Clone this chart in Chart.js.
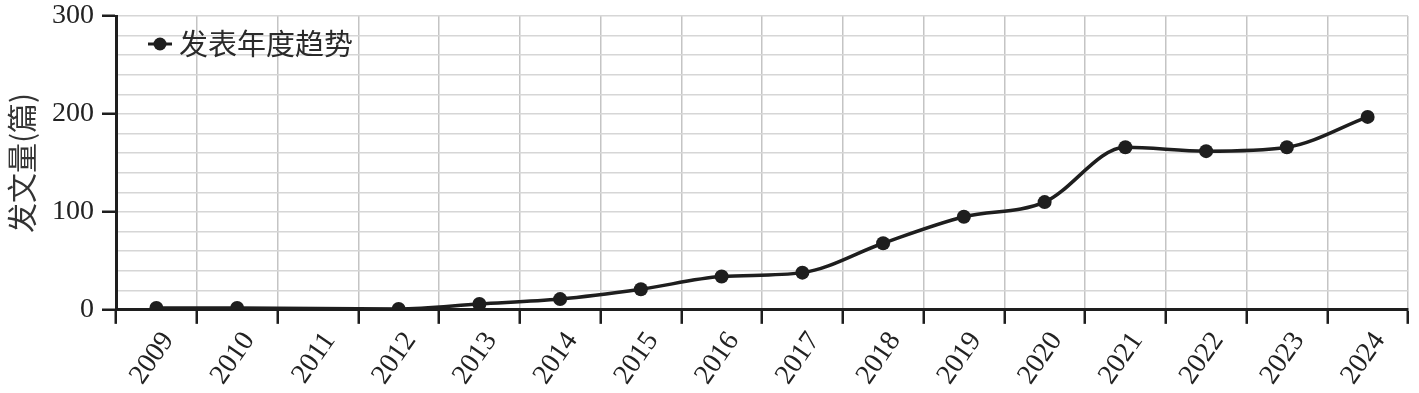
<!DOCTYPE html>
<html>
<head>
<meta charset="utf-8">
<script src="https://cdn.jsdelivr.net/npm/chart.js@4.4.1/dist/chart.umd.min.js"></script>
<style>
    html, body { margin: 0; padding: 0; background: #fff; }
    #wrap { width: 1419px; height: 393px; position: relative; }
</style>
</head>
<body>
<div id="wrap"><canvas id="trendChart"></canvas></div>
<script>
// Data (2011 has no marker, the line runs through it)
const years = ['2009', '2010', '2011', '2012', '2013', '2014', '2015', '2016',
               '2017', '2018', '2019', '2020', '2021', '2022', '2023', '2024'];
const paperCounts = [2, 2, null, 1, 6, 11, 21, 34, 38, 68, 95, 110, 166, 162, 166, 197];
const seriesLabel = '发表年度趋势';
const yTitle = '发文量(篇)';
const yMajorTicks = [0, 100, 200, 300];

const ink = '#1e1e1e';
const serif = "'Liberation Serif', 'DejaVu Serif', serif";
const cjk = "'Noto Sans CJK SC', sans-serif";

// Legend sits inside the plot, top left
const insideLegend = {
    id: 'insideLegend',
    afterDatasetsDraw(chart) {
        const { ctx, chartArea } = chart;
        const x = chartArea.left + 32;
        const y = chartArea.top + 28;
        ctx.save();
        ctx.strokeStyle = ink;
        ctx.fillStyle = ink;
        ctx.lineWidth = 3;
        ctx.beginPath();
        ctx.moveTo(x, y);
        ctx.lineTo(x + 24, y);
        ctx.stroke();
        ctx.beginPath();
        ctx.arc(x + 12, y, 6.5, 0, Math.PI * 2);
        ctx.fill();
        ctx.font = '29px ' + cjk;
        ctx.fillStyle = '#2a2a2a';
        ctx.textBaseline = 'middle';
        ctx.fillText(chart.data.datasets[0].label, x + 31, y);
        ctx.restore();
    }
};

const ctx = document.getElementById('trendChart').getContext('2d');
new Chart(ctx, {
    type: 'line',
    data: {
        labels: years,
        datasets: [{
            label: seriesLabel,
            data: paperCounts,
            borderColor: ink,
            backgroundColor: ink,
            borderWidth: 3.5,
            cubicInterpolationMode: 'monotone',
            spanGaps: true,
            pointRadius: 7,
            pointHoverRadius: 7,
            pointBackgroundColor: ink,
            pointBorderWidth: 0
        }]
    },
    options: {
        responsive: true,
        maintainAspectRatio: false,
        animation: false,
        layout: { padding: { left: 4, right: 11, top: 16, bottom: 0 } },
        plugins: {
            legend: { display: false },
            tooltip: { enabled: false }
        },
        scales: {
            x: {
                type: 'category',
                offset: true,
                grid: {
                    offset: true,
                    color: '#c4c4c4',
                    lineWidth: 1.5,
                    tickColor: ink,
                    tickLength: 14,
                    tickWidth: 2.5
                },
                border: { display: true, color: ink, width: 3 },
                ticks: {
                    autoSkip: false,
                    minRotation: 55,
                    maxRotation: 55,
                    padding: 2,
                    labelOffset: 12,
                    color: '#222',
                    font: { family: serif, size: 28 }
                }
            },
            y: {
                min: 0,
                max: 300,
                // let the top label overhang the padding so the plot starts near the top
                afterFit: scale => { scale.paddingTop = 0; },
                grid: {
                    color: '#d6d6d6',
                    lineWidth: 1.5,
                    tickLength: 14,
                    tickWidth: 2.5,
                    tickColor: c => yMajorTicks.includes(c.tick.value) ? ink : 'rgba(0,0,0,0)'
                },
                border: { display: true, color: ink, width: 3 },
                ticks: {
                    autoSkip: false,
                    stepSize: 20,
                    padding: 8,
                    color: '#222',
                    font: { family: serif, size: 28 },
                    callback: v => yMajorTicks.includes(v) ? v : ''
                },
                title: {
                    display: true,
                    text: yTitle,
                    color: '#333',
                    font: { family: cjk, size: 30 },
                    padding: { top: 0, bottom: 4 }
                }
            }
        }
    },
    plugins: [insideLegend]
});
</script>
</body>
</html>
